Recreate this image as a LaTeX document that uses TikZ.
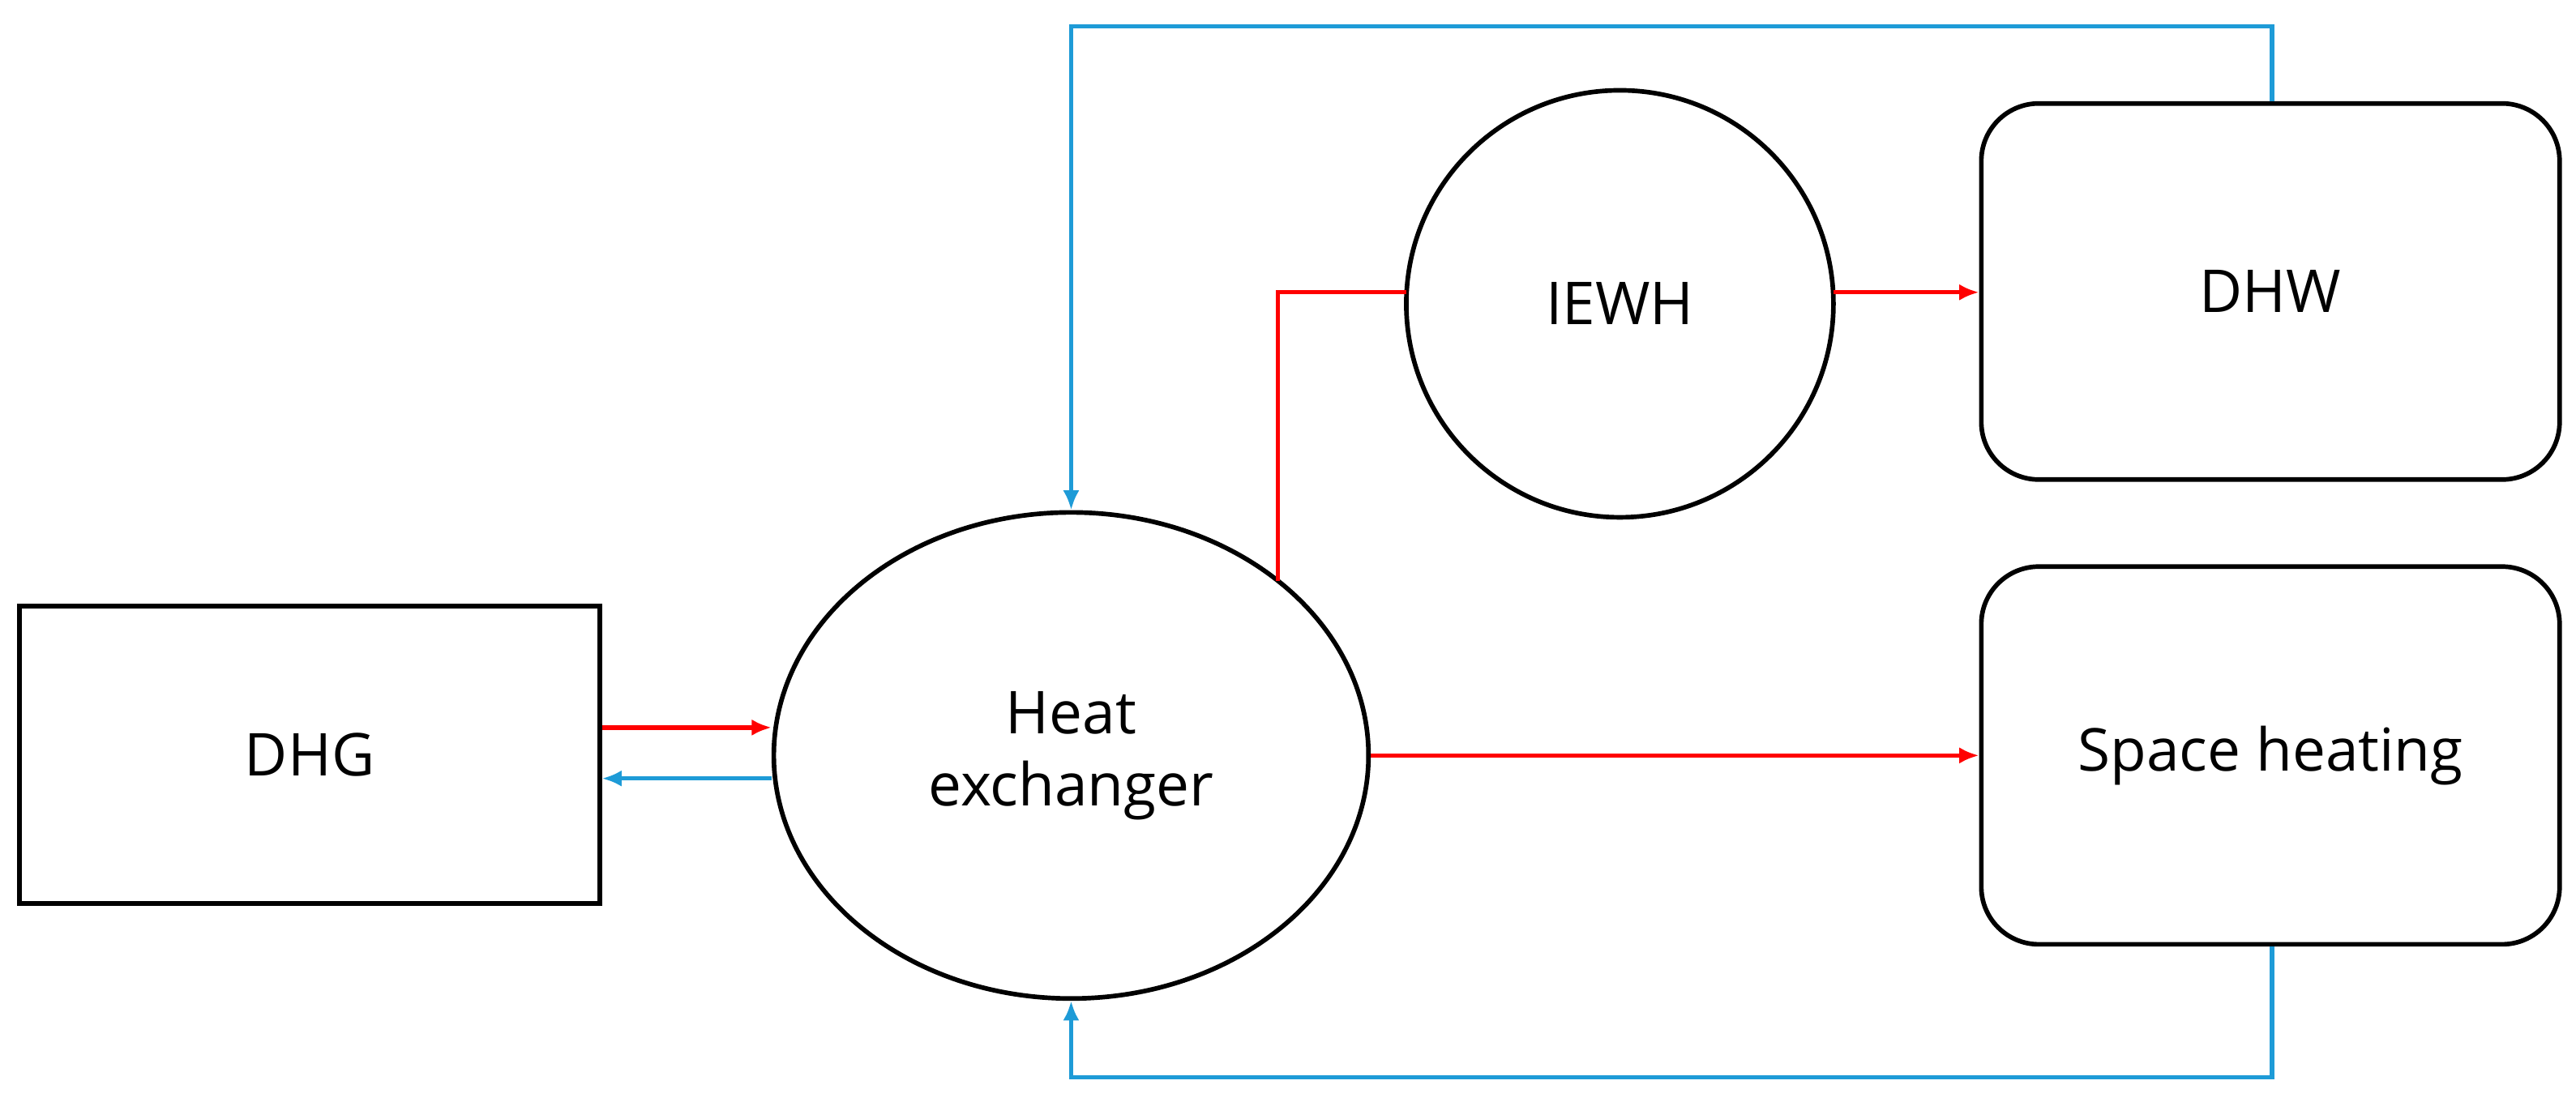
\documentclass[tikz,border=0pt]{standalone}
\usepackage{fontspec}
\setmainfont{Open Sans}
\usetikzlibrary{arrows.meta,shapes.geometric}
\begin{document}
\begin{tikzpicture}[x=1pt,y=-1pt,
  box/.style={draw,line width=2.8pt,inner sep=0pt},
  lbl/.style={font=\fontsize{36}{44}\selectfont,align=center},
  red/.style={draw={rgb,255:red,255;green,0;blue,0},line width=2.6pt},
  blu/.style={draw={rgb,255:red,30;green,155;blue,215},line width=2.6pt},
  arr/.style={-{Latex[length=12pt,width=10pt]}}]
\useasboundingbox (0,0) rectangle (1568,671);
\node[box,minimum width=353pt,minimum height=181pt,lbl] (dhg) at (188.5,459.5) {DHG};
\node[box,ellipse,minimum width=362pt,minimum height=296pt,lbl] (he) at (652,460) {Heat\\exchanger};
\node[box,circle,minimum size=260pt,lbl] (iewh) at (986,185) {IEWH};
\node[box,rounded corners=35pt,minimum width=352pt,minimum height=229pt,lbl] (dhw) at (1382,177.5) {DHW};
\node[box,rounded corners=35pt,minimum width=352pt,minimum height=230pt,lbl] (sh) at (1382,460) {Space heating};
\coordinate (c0) at (778,354);
\coordinate (c1) at (778,178);
\coordinate (c2) at (856,178);
\coordinate (c3) at (1116,178);
\coordinate (t1) at (1383,16);
\coordinate (t2) at (652,16);
\coordinate (b1) at (1383,656);
\coordinate (b2) at (652,656);
\draw[red,arr] (dhg.east|-0,443) -- (he.west|-0,443);
\draw[blu,arr] (he.west|-0,474) -- (dhg.east|-0,474);
\draw[red] (c0) -- (c1) -- (c2);
\draw[red,arr] (c3) -- (c3-|dhw.west);
\draw[red,arr] (he.east) -- (sh.west);
\draw[blu,arr] (dhw.north-|t1) -- (t1) -- (t2) -- (he.north);
\draw[blu,arr] (sh.south-|b1) -- (b1) -- (b2) -- (he.south);
\end{tikzpicture}
\end{document}
